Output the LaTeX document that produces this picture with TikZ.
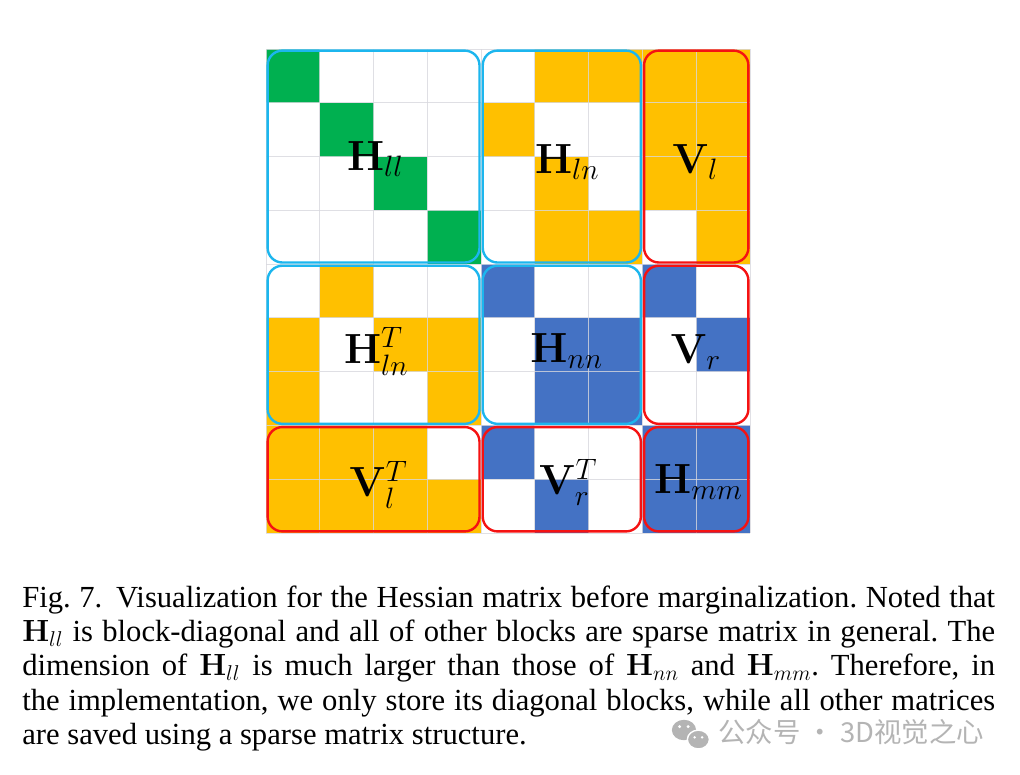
\documentclass[tikz,border=0pt]{standalone}
\usepackage{fix-cm}
\usepackage{amsmath, amssymb}
\usepackage[no-math]{fontspec}
\setmainfont{Liberation Serif}
\newfontfamily\cjk{Noto Sans CJK SC}
\usepackage{tikz}
\usetikzlibrary{positioning}

\definecolor{hgreen}{HTML}{00B050}
\definecolor{hyellow}{HTML}{FFC000}
\definecolor{hblue}{HTML}{4472C4}
\definecolor{hcyan}{HTML}{1CB6EE}
\definecolor{hred}{HTML}{F51212}
\definecolor{hgrid}{HTML}{D8D8DE}
\definecolor{hmark}{HTML}{B4B4B4}

\begin{document}
\begin{tikzpicture}[x=1.345cm, y=-1.345cm]

\tikzset{cellg/.style = {fill=hgreen}}
\tikzset{celly/.style = {fill=hyellow}}
\tikzset{cellb/.style = {fill=hblue}}
\tikzset{cellw/.style = {fill=white}}
\tikzset{gridline/.style = {draw=hgrid, line width=0.6pt, opacity=0.8}}
\tikzset{blockbox/.style = {line width=1.7pt, rounded corners=0.37cm}}
\tikzset{blocklabel/.style = {font=\fontsize{30}{30}\selectfont, inner sep=0pt, anchor=base}}

\useasboundingbox (-4.946,-0.911) rectangle (14.020,13.481);

% cells
\foreach \row [count=\i from 0] in {
  {g,w,w,w,w,y,y,y,y},
  {w,g,w,w,y,w,w,y,y},
  {w,w,g,w,w,y,w,y,y},
  {w,w,w,g,w,y,y,w,y},
  {w,y,w,w,b,w,w,b,w},
  {y,w,y,y,w,b,b,w,b},
  {y,w,w,y,w,b,b,w,w},
  {y,y,y,w,b,w,w,b,b},
  {y,y,y,y,w,b,w,b,b}}
  \foreach \c [count=\j from 0] in \row
    \fill[cell\c] (\j,\i) rectangle ++(1,1);

\foreach \k in {0,...,9} {
  \draw[gridline] (\k,0) -- (\k,9);
  \draw[gridline] (0,\k) -- (9,\k);
}

% blocks
\foreach \xa/\ya/\xb/\yb/\col in {0/0/4/4/hcyan, 4/0/7/4/hcyan, 0/4/4/7/hcyan, 4/4/7/7/hcyan,
  7/0/9/4/hred, 7/4/9/7/hred, 0/7/4/9/hred, 4/7/7/9/hred, 7/7/9/9/hred}
  \draw[blockbox, draw=\col] (\xa+0.03,\ya+0.03) rectangle (\xb-0.03,\yb-0.03);

% labels
\node[blocklabel] (hll)  at (2.03,2.25) {$\mathbf{H}_{ll}$};
\node[blocklabel] (hln)  at (5.60,2.31) {$\mathbf{H}_{ln}$};
\node[blocklabel] (vl)   at (7.98,2.31) {$\mathbf{V}_{l}$};
\node[blocklabel] (hlnT) at (2.05,5.84) {$\mathbf{H}_{ln}^{T}$};
\node[blocklabel] (hnn)  at (5.59,5.82) {$\mathbf{H}_{nn}$};
\node[blocklabel] (vr)   at (7.99,5.84) {$\mathbf{V}_{r}$};
\node[blocklabel] (vlT)  at (2.09,8.33) {$\mathbf{V}_{l}^{T}$};
\node[blocklabel] (vrT)  at (5.62,8.29) {$\mathbf{V}_{r}^{T}$};
\node[blocklabel] (hmm)  at (8.04,8.26) {$\mathbf{H}_{mm}$};

% caption
\node[anchor=base west, inner sep=0pt, text width=24.33cm, align=justify,
      font=\fontsize{21.8}{24.5}\selectfont\frenchspacing] (caption) at (-4.537,10.376)
  {Fig.~7.\hspace{0.45em}Visualization for the Hessian matrix before marginalization. Noted that\linebreak
   $\mathbf{H}_{ll}$ is block-diagonal and all of other blocks are sparse matrix in general. The\linebreak
   dimension of $\mathbf{H}_{ll}$ is much larger than those of $\mathbf{H}_{nn}$ and $\mathbf{H}_{mm}$. Therefore, in\linebreak
   the implementation, we only store its diagonal blocks, while all other matrices\linebreak
   are saved using a sparse matrix structure.};

% watermark
\fill[hmark] (7.772,12.663) ellipse (0.225 and 0.19);
\fill[hmark, draw=white, line width=1pt] (8.04,12.84) ellipse (0.205 and 0.175);
\fill[white] (7.69,12.6) circle (0.03) (7.85,12.6) circle (0.03)
             (7.97,12.8) circle (0.025) (8.11,12.8) circle (0.025);
\node[anchor=base west, inner sep=0pt, text=hmark,
      font=\cjk\fontsize{19.5}{19.5}\selectfont] (wm) at (8.404,12.9)
  {公众号 · 3D视觉之心};

\end{tikzpicture}
\end{document}
